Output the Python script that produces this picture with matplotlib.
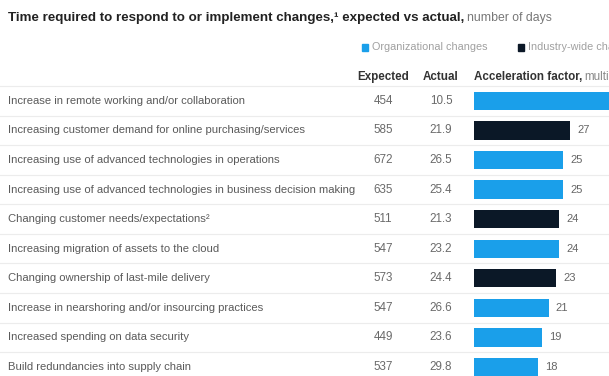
import matplotlib
matplotlib.use("Agg")
import matplotlib.pyplot as plt
import matplotlib.transforms as mtransforms
from matplotlib.patches import Rectangle

plt.rcParams['font.family'] = ['Liberation Sans', 'DejaVu Sans']

# data
labels = [
    'Increase in remote working and/or collaboration',
    'Increasing customer demand for online purchasing/services',
    'Increasing use of advanced technologies in operations',
    'Increasing use of advanced technologies in business decision making',
    'Changing customer needs/expectations\u00b2',
    'Increasing migration of assets to the cloud',
    'Changing ownership of last-mile delivery',
    'Increase in nearshoring and/or insourcing practices',
    'Increased spending on data security',
    'Build redundancies into supply chain',
]
expected = [454, 585, 672, 635, 511, 547, 573, 547, 449, 537]
actual = [10.5, 21.9, 26.5, 25.4, 21.3, 23.2, 24.4, 26.6, 23.6, 29.8]
factor = [43, 27, 25, 25, 24, 24, 23, 21, 19, 18]
kind = ['org', 'ind', 'org', 'org', 'ind', 'org', 'ind', 'org', 'org', 'org']

BLUE = '#1a9fea'
NAVY = '#0b1827'
colors = {'org': BLUE, 'ind': NAVY}

W, H = 609, 376
fig = plt.figure(figsize=(W / 100, H / 100), dpi=100)

# bar axes: x=0 at pixel 474, ~3.56 px per unit
x0 = 474
ax = fig.add_axes([x0 / W, 0, 1 - x0 / W, (H - 86) / H])
xmax = (W - x0) / 3.56
ax.set_xlim(0, xmax)
ax.set_ylim((H - 101) / 29.56, -0.5)
ax.axis('off')

rows = list(range(len(labels)))
ax.barh(rows, factor, height=0.62, color=[colors[k] for k in kind], zorder=3)
for i, v in enumerate(factor):
    if v + 2 < xmax:  # the first bar runs off the right edge in the source
        ax.text(v + 2.0, i, str(v), va='center', ha='left', fontsize=8,
                color='#666666')

tr = mtransforms.blended_transform_factory(fig.transFigure, ax.transData)

# row separators
for i in range(len(labels) + 1):
    ax.plot([0, 1], [i - 0.5, i - 0.5], transform=tr, color='#ececec',
            lw=0.8, zorder=1, clip_on=False)

for i, lab in enumerate(labels):
    ax.text(8 / W, i, lab, transform=tr, va='center', ha='left',
            fontsize=8.1, color='#5a5a5a')
    ax.text(383 / W, i, str(expected[i]), transform=tr, va='center',
            ha='center', fontsize=8.4, color='#6a6a6a')
    ax.text(441 / W, i, '%.1f' % actual[i], transform=tr, va='center',
            ha='center', fontsize=8.4, color='#6a6a6a')

renderer = fig.canvas.get_renderer()

# header
hy = 1 - 77 / H
fig.text(383 / W, hy, 'Expected', ha='center', va='center', fontsize=8.4,
         fontweight='bold', color='#333333')
fig.text(441 / W, hy, 'Actual', ha='center', va='center', fontsize=8.4,
         fontweight='bold', color='#333333')
t = fig.text(474 / W, hy, 'Acceleration factor,', ha='left', va='center',
             fontsize=8.4, fontweight='bold', color='#333333')
bb = t.get_window_extent(renderer)
fig.text(bb.x1 / W + 2 / W, hy, 'multiple', ha='left', va='center',
         fontsize=8.4, color='#888888')

# title
ty = 1 - 18 / H
t1 = fig.text(8 / W, ty, 'Time required to respond to or implement changes,\u00b9 expected vs actual,',
              ha='left', va='center', fontsize=9.6, fontweight='bold', color='#222222')
bb = t1.get_window_extent(renderer)
fig.text(bb.x1 / W + 3 / W, ty, 'number of days', ha='left', va='center',
         fontsize=8.8, color='#777777')

# legend
ly = 1 - 47 / H
for lx, col, txt in [(362, BLUE, 'Organizational changes'),
                     (518, NAVY, 'Industry-wide changes')]:
    fig.patches.append(Rectangle((lx / W, ly - 3.5 / H), 6 / W, 7 / H,
                                 transform=fig.transFigure, color=col))
    fig.text((lx + 10) / W, ly, txt, ha='left', va='center', fontsize=7.8,
             color='#a0a0a0')

fig.savefig('out.png', dpi=100, facecolor='white')
